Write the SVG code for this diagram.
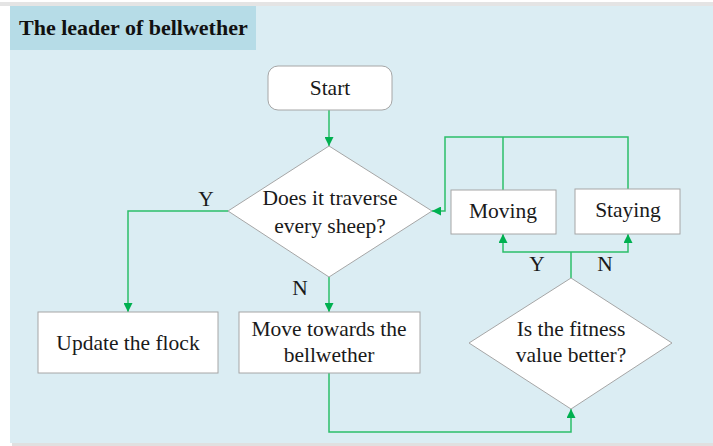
<svg xmlns="http://www.w3.org/2000/svg" width="713" height="446" viewBox="0 0 713 446">
<style>
.box{fill:#ffffff;stroke:#a6a6a6;stroke-width:1}
.t{font-family:"Liberation Serif","Times New Roman",serif;font-size:21.5px;fill:#1a1a1a;text-anchor:middle}
.c{fill:none;stroke:#2cbf6a;stroke-width:1.5}
.a{stroke:#2cbf6a;stroke-width:1.5;fill:none;marker-end:url(#ah)}
</style>
<defs>
<marker id="ah" viewBox="0 0 10 10" refX="10" refY="5" markerWidth="9" markerHeight="9" markerUnits="userSpaceOnUse" orient="auto">
<path d="M0,0 L10,5 L0,10 z" fill="#00b050"/>
</marker>
</defs>
<rect x="0" y="0" width="713" height="446" fill="#ffffff"/>
<rect x="0" y="2" width="713" height="4" fill="#e4e4e4"/>
<rect x="12" y="443" width="701" height="3" fill="#e0e0e0"/>
<rect x="10" y="6" width="703" height="437" fill="#dbedf3"/>
<g id="title">
<rect x="10" y="6" width="246" height="44" fill="#b6dce7"/>
<text x="19" y="35" style="font-family:'Liberation Serif','Times New Roman',serif;font-size:22px;font-weight:bold;fill:#111">The leader of bellwether</text>
</g>
<g id="connectors">
<line class="a" x1="329" y1="110" x2="329" y2="146"/>
<polyline class="a" points="228,211 128,211 128,312"/>
<line class="a" x1="329" y1="277" x2="329" y2="312"/>
<polyline class="a" points="329,373 329,432 571,432 571,409"/>
<line class="c" x1="571" y1="278" x2="571" y2="252"/>
<polyline class="a" points="571,252 503,252 503,234"/>
<polyline class="a" points="571,252 628,252 628,234"/>
<polyline class="c" points="503,190 503,137"/>
<polyline class="a" points="628,189 628,137 445,137 445,211 432,211"/>
</g>
<g id="start">
<rect class="box" x="268" y="66" width="124" height="44" rx="10"/>
<text class="t" x="330" y="95">Start</text>
</g>
<g id="traverse">
<polygon class="box" points="329,146 432,211 329,277 228,211"/>
<text class="t" x="330" y="205">Does it traverse</text>
<text class="t" x="330" y="233">every sheep?</text>
</g>
<g id="update">
<rect class="box" x="38" y="312" width="180" height="61"/>
<text class="t" x="128" y="350">Update the flock</text>
</g>
<g id="move">
<rect class="box" x="239" y="312" width="181" height="61"/>
<text class="t" x="329" y="336">Move towards the</text>
<text class="t" x="329" y="362">bellwether</text>
</g>
<g id="fitness">
<polygon class="box" points="571,278 672,343 571,409 469,343"/>
<text class="t" x="571" y="336">Is the fitness</text>
<text class="t" x="571" y="362">value better?</text>
</g>
<g id="moving">
<rect class="box" x="451" y="190" width="105" height="44"/>
<text class="t" x="503" y="218">Moving</text>
</g>
<g id="staying">
<rect class="box" x="575" y="189" width="105" height="45"/>
<text class="t" x="628" y="217">Staying</text>
</g>
<g id="labels">
<text class="t" x="206" y="206">Y</text>
<text class="t" x="300" y="295">N</text>
<text class="t" x="537" y="271">Y</text>
<text class="t" x="605" y="271">N</text>
</g>
</svg>
